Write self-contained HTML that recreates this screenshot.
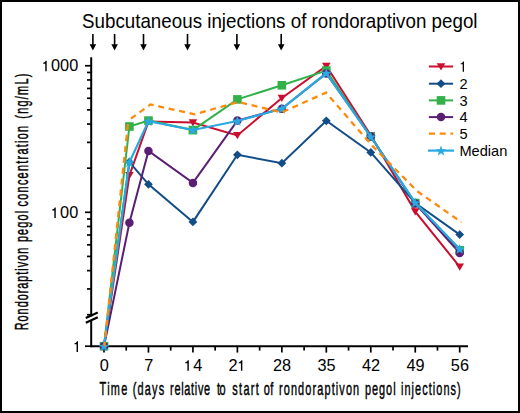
<!DOCTYPE html>
<html><head><meta charset="utf-8"><style>
html,body{margin:0;padding:0;background:#fff;}
body{width:520px;height:413px;overflow:hidden;position:relative;font-family:"Liberation Sans",sans-serif;}
.frame{position:absolute;left:0;top:0;width:516px;height:409px;border:2px solid #000;background:#fff;}
svg{position:absolute;left:0;top:0;}
</style></head><body>
<div class="frame"></div>
<svg width="520" height="413" viewBox="0 0 520 413">
<g stroke="#000" stroke-width="2" fill="none">
<path d="M91.2,57.2V316.5"/>
<path d="M91.2,320.5V347.2"/>
<path d="M90.2,346.2H468"/>
</g>
<g stroke="#000" stroke-width="2.2" fill="none"><path d="M85.8,318L97.8,312.5"/><path d="M85.8,322.8L97.8,317.3"/></g>
<g stroke="#000" stroke-width="1.7" fill="none">
<path d="M85.00,65.75H91.2"/>
<path d="M85.00,212.30H91.2"/>
<path d="M85.00,346.2H91.2"/>
<path d="M87.00,168.18H91.2"/>
<path d="M87.00,142.38H91.2"/>
<path d="M87.00,124.07H91.2"/>
<path d="M87.00,109.87H91.2"/>
<path d="M87.00,98.26H91.2"/>
<path d="M87.00,88.45H91.2"/>
<path d="M87.00,79.95H91.2"/>
<path d="M87.00,72.46H91.2"/>
<path d="M87.00,314.73H91.2"/>
<path d="M87.00,288.93H91.2"/>
<path d="M87.00,270.62H91.2"/>
<path d="M87.00,256.42H91.2"/>
<path d="M87.00,244.81H91.2"/>
<path d="M87.00,235.00H91.2"/>
<path d="M87.00,226.50H91.2"/>
<path d="M87.00,219.01H91.2"/>
<path d="M104.00,346.2V352.6"/>
<path d="M148.46,346.2V352.6"/>
<path d="M192.93,346.2V352.6"/>
<path d="M237.39,346.2V352.6"/>
<path d="M281.86,346.2V352.6"/>
<path d="M326.32,346.2V352.6"/>
<path d="M370.78,346.2V352.6"/>
<path d="M415.25,346.2V352.6"/>
<path d="M459.71,346.2V352.6"/>
<path d="M126.23,346.2V350.6"/>
<path d="M170.70,346.2V350.6"/>
<path d="M215.16,346.2V350.6"/>
<path d="M259.62,346.2V350.6"/>
<path d="M304.09,346.2V350.6"/>
<path d="M348.55,346.2V350.6"/>
<path d="M393.02,346.2V350.6"/>
<path d="M437.48,346.2V350.6"/>
</g>
<g font-family="Liberation Sans, sans-serif" fill="#000">
<path d="M46.70,71.30L46.70,60.75L45.65,60.75C45.41,61.92 44.54,62.52 43.16,62.63L43.16,63.68L45.26,63.68L45.26,71.30Z" fill="#000"/>
<text transform="translate(51.00,71.3) scale(1.0449,1)" font-size="15.6">0</text>
<text transform="translate(60.07,71.3) scale(1.0449,1)" font-size="15.6">0</text>
<text transform="translate(69.13,71.3) scale(1.0449,1)" font-size="15.6">0</text>
<path d="M55.76,218.10L55.76,207.56L54.72,207.56C54.47,208.72 53.61,209.32 52.22,209.43L52.22,210.48L54.33,210.48L54.33,218.10Z" fill="#000"/>
<text transform="translate(60.07,218.1) scale(1.0449,1)" font-size="15.6">0</text>
<text transform="translate(69.13,218.1) scale(1.0449,1)" font-size="15.6">0</text>
<path d="M78.00,351.90L78.00,341.35L76.96,341.35C76.71,342.52 75.85,343.12 74.46,343.23L74.46,344.28L76.57,344.28L76.57,351.90Z" fill="#000"/>
<text transform="translate(99.67,370.8) scale(1.0449,1)" font-size="15.6">0</text>
<text transform="translate(144.13,370.8) scale(1.0449,1)" font-size="15.6">7</text>
<path d="M188.82,370.80L188.82,360.25L187.78,360.25C187.53,361.43 186.67,362.03 185.28,362.13L185.28,363.18L187.39,363.18L187.39,370.80Z" fill="#000"/>
<text transform="translate(193.13,370.8) scale(1.0449,1)" font-size="15.6">4</text>
<text transform="translate(228.53,370.8) scale(1.0449,1)" font-size="15.6">2</text>
<path d="M242.35,370.80L242.35,360.25L241.31,360.25C241.06,361.43 240.20,362.03 238.81,362.13L238.81,363.18L240.92,363.18L240.92,370.80Z" fill="#000"/>
<text transform="translate(272.99,370.8) scale(1.0449,1)" font-size="15.6">2</text>
<text transform="translate(282.06,370.8) scale(1.0449,1)" font-size="15.6">8</text>
<text transform="translate(317.45,370.8) scale(1.0449,1)" font-size="15.6">3</text>
<text transform="translate(326.52,370.8) scale(1.0449,1)" font-size="15.6">5</text>
<text transform="translate(361.92,370.8) scale(1.0449,1)" font-size="15.6">4</text>
<text transform="translate(370.98,370.8) scale(1.0449,1)" font-size="15.6">2</text>
<text transform="translate(406.38,370.8) scale(1.0449,1)" font-size="15.6">4</text>
<text transform="translate(415.45,370.8) scale(1.0449,1)" font-size="15.6">9</text>
<text transform="translate(450.85,370.8) scale(1.0449,1)" font-size="15.6">5</text>
<text transform="translate(459.91,370.8) scale(1.0449,1)" font-size="15.6">6</text>
</g>
<text x="82" y="28.5" transform="matrix(1 0 0 1.11 0 -3.135)" font-family="Liberation Sans, sans-serif" font-size="18.8" textLength="395.5" lengthAdjust="spacingAndGlyphs">Subcutaneous injections of rondoraptivon pegol</text>
<g font-family="Liberation Sans, sans-serif" font-size="18.2" stroke="#000" stroke-width="0.45">
<text transform="translate(99.58,395.2) scale(0.6,1)" letter-spacing="2.159">Time</text>
<text transform="translate(132.74,395.2) scale(0.6,1)" letter-spacing="1.981">(days</text>
<text transform="translate(170.08,395.2) scale(0.6,1)" letter-spacing="1.173">relative</text>
<text transform="translate(217.03,395.2) scale(0.6,1)" letter-spacing="-0.989">to</text>
<text transform="translate(232.27,395.2) scale(0.6,1)" letter-spacing="2.189">start</text>
<text transform="translate(263.86,395.2) scale(0.6,1)" letter-spacing="0.402">of</text>
<text transform="translate(278.98,395.2) scale(0.6,1)" letter-spacing="1.867">rondoraptivon</text>
<text transform="translate(364.88,395.2) scale(0.6,1)" letter-spacing="1.661">pegol</text>
<text transform="translate(400.93,395.2) scale(0.6,1)" letter-spacing="1.765">injections)</text>
</g>
<g transform="rotate(-90)" font-family="Liberation Sans, sans-serif" font-size="18.2" stroke="#000" stroke-width="0.45">
<text transform="translate(-330.28,28.4) scale(0.6,1)" letter-spacing="1.606">Rondoraptivon</text>
<text transform="translate(-242.12,28.4) scale(0.6,1)" letter-spacing="1.952">pegol</text>
<text transform="translate(-206.44,28.4) scale(0.6,1)" letter-spacing="2.081">concentration</text>
<text transform="translate(-118.66,28.4) scale(0.6,1)" letter-spacing="2.058">(ng/mL)</text>
</g>
<path d="M92.9,34V45" stroke="#000" stroke-width="1.6"/>
<path d="M89.60000000000001,44.3H96.2L92.9,50.4Z" fill="#000"/>
<path d="M114.6,34V45" stroke="#000" stroke-width="1.6"/>
<path d="M111.3,44.3H117.89999999999999L114.6,50.4Z" fill="#000"/>
<path d="M143.5,34V45" stroke="#000" stroke-width="1.6"/>
<path d="M140.2,44.3H146.8L143.5,50.4Z" fill="#000"/>
<path d="M187.5,34V45" stroke="#000" stroke-width="1.6"/>
<path d="M184.2,44.3H190.8L187.5,50.4Z" fill="#000"/>
<path d="M236.9,34V45" stroke="#000" stroke-width="1.6"/>
<path d="M233.6,44.3H240.20000000000002L236.9,50.4Z" fill="#000"/>
<path d="M281.2,34V45" stroke="#000" stroke-width="1.6"/>
<path d="M277.9,44.3H284.5L281.2,50.4Z" fill="#000"/>
<polyline points="104.00,346.20 129.41,175.40 148.46,121.60 192.93,122.60 237.39,135.40 281.86,98.00 326.32,66.00 370.78,135.20 415.25,211.60 459.71,266.80" fill="none" stroke="#c8102e" stroke-width="2" stroke-linejoin="miter"/>
<path d="M99.70,342.90L108.30,342.90L104.00,350.10Z" fill="#c8102e"/>
<path d="M125.11,172.10L133.71,172.10L129.41,179.30Z" fill="#c8102e"/>
<path d="M144.16,118.30L152.76,118.30L148.46,125.50Z" fill="#c8102e"/>
<path d="M188.63,119.30L197.23,119.30L192.93,126.50Z" fill="#c8102e"/>
<path d="M233.09,132.10L241.69,132.10L237.39,139.30Z" fill="#c8102e"/>
<path d="M277.56,94.70L286.16,94.70L281.86,101.90Z" fill="#c8102e"/>
<path d="M322.02,62.70L330.62,62.70L326.32,69.90Z" fill="#c8102e"/>
<path d="M366.48,131.90L375.08,131.90L370.78,139.10Z" fill="#c8102e"/>
<path d="M410.95,208.30L419.55,208.30L415.25,215.50Z" fill="#c8102e"/>
<path d="M455.41,263.50L464.01,263.50L459.71,270.70Z" fill="#c8102e"/>
<polyline points="104.00,346.20 129.41,162.00 148.46,184.30 192.93,221.90 237.39,154.80 281.86,163.20 326.32,120.80 370.78,152.40 415.25,203.00 459.71,234.60" fill="none" stroke="#124d88" stroke-width="2" stroke-linejoin="miter"/>
<path d="M104.00,341.80L108.40,346.20L104.00,350.60L99.60,346.20Z" fill="#124d88"/>
<path d="M129.41,157.60L133.81,162.00L129.41,166.40L125.01,162.00Z" fill="#124d88"/>
<path d="M148.46,179.90L152.86,184.30L148.46,188.70L144.06,184.30Z" fill="#124d88"/>
<path d="M192.93,217.50L197.33,221.90L192.93,226.30L188.53,221.90Z" fill="#124d88"/>
<path d="M237.39,150.40L241.79,154.80L237.39,159.20L232.99,154.80Z" fill="#124d88"/>
<path d="M281.86,158.80L286.26,163.20L281.86,167.60L277.46,163.20Z" fill="#124d88"/>
<path d="M326.32,116.40L330.72,120.80L326.32,125.20L321.92,120.80Z" fill="#124d88"/>
<path d="M370.78,148.00L375.18,152.40L370.78,156.80L366.38,152.40Z" fill="#124d88"/>
<path d="M415.25,198.60L419.65,203.00L415.25,207.40L410.85,203.00Z" fill="#124d88"/>
<path d="M459.71,230.20L464.11,234.60L459.71,239.00L455.31,234.60Z" fill="#124d88"/>
<polyline points="104.00,346.20 129.41,126.50 148.46,120.60 192.93,130.10 237.39,99.40 281.86,85.30 326.32,70.60 370.78,136.50 415.25,203.00 459.71,250.30" fill="none" stroke="#32b14a" stroke-width="2" stroke-linejoin="miter"/>
<rect x="99.70" y="341.90" width="8.6" height="8.6" fill="#32b14a"/>
<rect x="125.11" y="122.20" width="8.6" height="8.6" fill="#32b14a"/>
<rect x="144.16" y="116.30" width="8.6" height="8.6" fill="#32b14a"/>
<rect x="188.63" y="125.80" width="8.6" height="8.6" fill="#32b14a"/>
<rect x="233.09" y="95.10" width="8.6" height="8.6" fill="#32b14a"/>
<rect x="277.56" y="81.00" width="8.6" height="8.6" fill="#32b14a"/>
<rect x="322.02" y="66.30" width="8.6" height="8.6" fill="#32b14a"/>
<rect x="366.48" y="132.20" width="8.6" height="8.6" fill="#32b14a"/>
<rect x="410.95" y="198.70" width="8.6" height="8.6" fill="#32b14a"/>
<rect x="455.41" y="246.00" width="8.6" height="8.6" fill="#32b14a"/>
<polyline points="104.00,346.20 129.41,222.80 148.46,150.90 192.93,182.90 237.39,120.60 281.86,108.70 326.32,73.50 370.78,136.50 415.25,203.50 459.71,253.00" fill="none" stroke="#5a1f73" stroke-width="2" stroke-linejoin="miter"/>
<circle cx="104.00" cy="346.20" r="4.25" fill="#5a1f73"/>
<circle cx="129.41" cy="222.80" r="4.25" fill="#5a1f73"/>
<circle cx="148.46" cy="150.90" r="4.25" fill="#5a1f73"/>
<circle cx="192.93" cy="182.90" r="4.25" fill="#5a1f73"/>
<circle cx="237.39" cy="120.60" r="4.25" fill="#5a1f73"/>
<circle cx="281.86" cy="108.70" r="4.25" fill="#5a1f73"/>
<circle cx="326.32" cy="73.50" r="4.25" fill="#5a1f73"/>
<circle cx="370.78" cy="136.50" r="4.25" fill="#5a1f73"/>
<circle cx="415.25" cy="203.50" r="4.25" fill="#5a1f73"/>
<circle cx="459.71" cy="253.00" r="4.25" fill="#5a1f73"/>
<polyline points="104.00,346.20 129.41,162.20 148.46,121.20 192.93,130.00 237.39,121.00 281.86,108.70 326.32,73.20 370.78,136.90 415.25,202.70 459.71,249.00" fill="none" stroke="#29a9e0" stroke-width="2.2" stroke-linejoin="miter"/>
<polygon points="104.00,341.10 105.35,344.74 109.23,344.90 106.19,347.31 107.23,351.05 104.00,348.90 100.77,351.05 101.81,347.31 98.77,344.90 102.65,344.74" fill="#29a9e0"/>
<polygon points="129.41,157.10 130.76,160.74 134.64,160.90 131.60,163.31 132.64,167.05 129.41,164.90 126.18,167.05 127.22,163.31 124.18,160.90 128.06,160.74" fill="#29a9e0"/>
<polygon points="148.46,116.10 149.82,119.74 153.69,119.90 150.65,122.31 151.70,126.05 148.46,123.90 145.23,126.05 146.28,122.31 143.23,119.90 147.11,119.74" fill="#29a9e0"/>
<polygon points="192.93,124.90 194.28,128.54 198.16,128.70 195.12,131.11 196.16,134.85 192.93,132.70 189.70,134.85 190.74,131.11 187.70,128.70 191.58,128.54" fill="#29a9e0"/>
<polygon points="237.39,115.90 238.74,119.54 242.62,119.70 239.58,122.11 240.62,125.85 237.39,123.70 234.16,125.85 235.20,122.11 232.16,119.70 236.04,119.54" fill="#29a9e0"/>
<polygon points="281.86,103.60 283.21,107.24 287.09,107.40 284.04,109.81 285.09,113.55 281.86,111.40 278.62,113.55 279.67,109.81 276.63,107.40 280.50,107.24" fill="#29a9e0"/>
<polygon points="326.32,68.10 327.67,71.74 331.55,71.90 328.51,74.31 329.55,78.05 326.32,75.90 323.09,78.05 324.13,74.31 321.09,71.90 324.97,71.74" fill="#29a9e0"/>
<polygon points="370.78,131.80 372.14,135.44 376.01,135.60 372.97,138.01 374.02,141.75 370.78,139.60 367.55,141.75 368.60,138.01 365.55,135.60 369.43,135.44" fill="#29a9e0"/>
<polygon points="415.25,197.60 416.60,201.24 420.48,201.40 417.44,203.81 418.48,207.55 415.25,205.40 412.02,207.55 413.06,203.81 410.02,201.40 413.90,201.24" fill="#29a9e0"/>
<polygon points="459.71,243.90 461.06,247.54 464.94,247.70 461.90,250.11 462.94,253.85 459.71,251.70 456.48,253.85 457.52,250.11 454.48,247.70 458.36,247.54" fill="#29a9e0"/>
<path d="M104.40,346.20L128.30,120.50" fill="none" stroke="#fc8a0c" stroke-width="2.3" stroke-dasharray="6.15,4.8" stroke-dashoffset="1.8"/>
<polyline points="128.30,120.50 150.36,104.50 194.63,114.30 238.19,102.00 281.86,112.40 326.02,92.60 371.58,145.00 416.95,191.00 461.51,222.30" fill="none" stroke="#fc8a0c" stroke-width="2.3" stroke-linejoin="miter" stroke-dasharray="6,4.7" stroke-dashoffset="7.5"/>










<path d="M428.9,66.5H453.1" stroke="#c8102e" stroke-width="2"/>
<path d="M436.70,63.20L445.30,63.20L441.00,70.40Z" fill="#c8102e"/>
<path d="M463.97,71.70L463.97,61.44L463.03,61.44C462.81,62.58 462.04,63.16 460.80,63.26L460.80,64.28L462.68,64.28L462.68,71.70Z" fill="#000"/>
<path d="M428.9,83.7H453.1" stroke="#124d88" stroke-width="2"/>
<path d="M441.00,79.30L445.40,83.70L441.00,88.10L436.60,83.70Z" fill="#124d88"/>
<text x="459.4" y="88.90" font-family="Liberation Sans, sans-serif" font-size="14.6">2</text>
<path d="M428.9,100.4H453.1" stroke="#32b14a" stroke-width="2"/>
<rect x="436.70" y="96.10" width="8.6" height="8.6" fill="#32b14a"/>
<text x="459.4" y="105.60" font-family="Liberation Sans, sans-serif" font-size="14.6">3</text>
<path d="M428.9,117.1H453.1" stroke="#5a1f73" stroke-width="2"/>
<circle cx="441.00" cy="117.10" r="4.25" fill="#5a1f73"/>
<text x="459.4" y="122.30" font-family="Liberation Sans, sans-serif" font-size="14.6">4</text>
<path d="M428.9,133.7H453.1" stroke="#fc8a0c" stroke-width="2.3" stroke-dasharray="6.1,4.7"/>

<text x="459.4" y="138.90" font-family="Liberation Sans, sans-serif" font-size="14.6">5</text>
<path d="M427.9,150.6H454.0" stroke="#29a9e0" stroke-width="2.2"/>
<polygon points="441.00,145.50 442.35,149.14 446.23,149.30 443.19,151.71 444.23,155.45 441.00,153.30 437.77,155.45 438.81,151.71 435.77,149.30 439.65,149.14" fill="#29a9e0"/>
<text x="459.4" y="155.80" font-family="Liberation Sans, sans-serif" font-size="14.6">Median</text>
</svg>
</body></html>
